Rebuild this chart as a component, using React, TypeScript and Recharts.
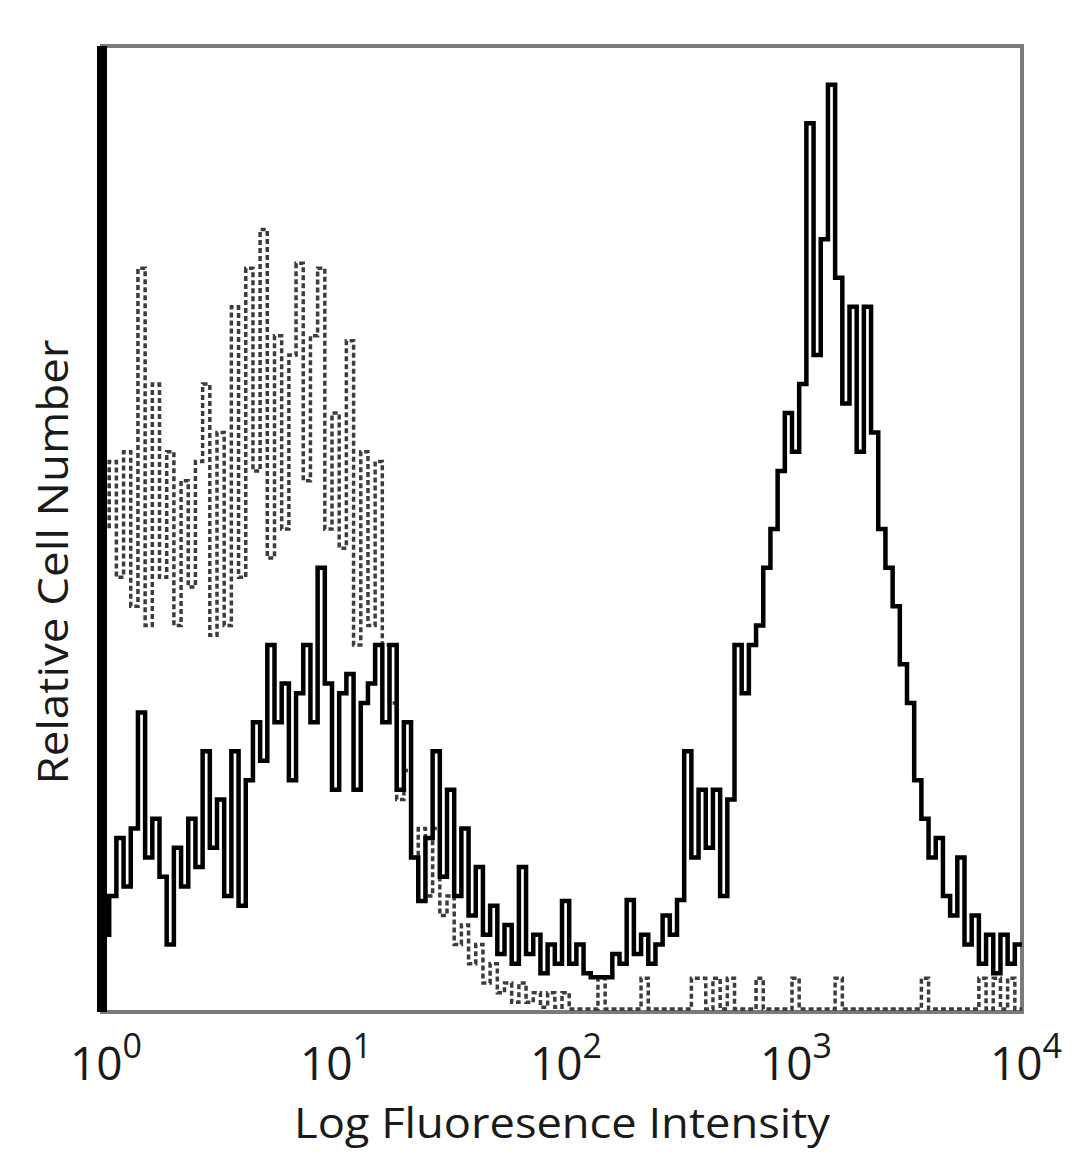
import React from "react";
import { ComposedChart, Line, XAxis, YAxis, ReferenceArea, ReferenceLine } from "recharts";

// 128 log-spaced channels spanning 10^0 .. 10^4 (32 channels per decade)
const isotypeCounts = [
  50, 57, 45, 58, 42, 77, 40, 65, 45, 58, 40, 55, 44, 57, 65, 39,
  60, 40, 73, 45, 77, 56, 81, 47, 70, 50, 68, 77.5, 55, 70, 77, 50,
  62, 48, 69.5, 38, 58, 40, 57, 38, 32, 22, 25, 16, 19, 12, 19, 10,
  12, 7, 9, 5, 7, 3, 5, 2, 3, 1, 3, 1, 2, 0.5, 2, 0.5,
  2, 0.3, 0.3, 0.3, 0.3, 3.5, 0.3, 0.3, 0.3, 0.3, 0.3, 3.5, 0.3, 0.3, 0.3, 0.3,
  0.3, 0.3, 3.5, 3.5, 0.3, 3.5, 0.3, 3.5, 0.3, 0.3, 0.3, 3.5, 0.3, 0.3, 0.3, 0.3,
  3.5, 0.3, 0.3, 0.3, 0.3, 0.3, 3.5, 0.3, 0.3, 0.3, 0.3, 0.3, 0.3, 0.3, 0.3, 0.3,
  0.3, 0.3, 3.5, 0.3, 0.3, 0.3, 0.3, 0.3, 0.3, 0.3, 3.5, 0.3, 3.5, 0.3, 3.5, 0.3,
];

const stainedCounts = [
  8, 12, 18, 13, 19, 31, 16, 20, 14, 7, 17, 13, 20, 15, 27, 17,
  22, 12, 27, 11, 24, 30, 26, 38, 30, 34, 24, 33, 38, 30, 46, 34,
  23, 33, 35, 23, 32, 34, 38, 30, 38, 23, 30, 16, 11.5, 18, 27, 14,
  23, 12, 19, 10, 15, 8, 11, 6, 9, 5, 15, 6, 8, 4, 7, 5,
  11.5, 5, 7, 4, 3.6, 3.6, 3.6, 6, 5, 11.6, 6, 8, 5, 7, 10, 8,
  11.6, 27, 16, 23, 17, 23, 12, 22, 38, 33, 38, 40, 46, 50, 56, 62,
  58, 65, 92, 68, 80, 96, 76, 63, 73, 58, 73, 60, 50, 46, 42, 36,
  32, 24, 20, 16, 18, 12, 10, 16, 7, 10, 5, 8, 4, 8, 5, 7,
];

const tickChannels = [0, 32, 64, 96, 128];
const tickExponents = ["0", "1", "2", "3", "4"];
const xTitle = "Log Fluoresence Intensity";
const yTitle = "Relative Cell Number";

const channels = isotypeCounts.map((_, i) => i);
const data = channels.map((c, i) => ({ ch: c, iso: isotypeCounts[i], stain: stainedCounts[i] }));
data.push({ ch: 128, iso: isotypeCounts[127], stain: stainedCounts[127] });

const FONT = "'Open Sans', 'DejaVu Sans', sans-serif";

const Tick = (props: any) => {
  const { x, y, payload } = props;
  const idx = tickChannels.indexOf(payload.value);
  return (
    <text x={x + 4} y={y + 68} textAnchor="middle" fontFamily={FONT} fontSize={46} fill="#1a1a1a">
      <tspan>10</tspan>
      <tspan dy={-22} fontSize={34}>{tickExponents[idx]}</tspan>
    </text>
  );
};

const Titles = (props: any) => {
  const vb = props.viewBox || { x: 94, y: 1004, width: 920 };
  return (
    <g>
      <text
        x={vb.x + vb.width / 2}
        y={vb.y + 126}
        textAnchor="middle"
        fontFamily={FONT}
        fontSize={42}
        fill="#1a1a1a"
        textLength={536}
        lengthAdjust="spacingAndGlyphs"
      >
        {xTitle}
      </text>
      <text
        x={0}
        y={0}
        transform={`translate(${vb.x - 34}, 554) rotate(-90)`}
        textAnchor="middle"
        fontFamily={FONT}
        fontSize={42}
        fill="#1a1a1a"
        textLength={445}
        lengthAdjust="spacingAndGlyphs"
      >
        {yTitle}
      </text>
    </g>
  );
};

export default function App() {
  return (
    <div style={{ width: 1064, height: 1150, background: "#fff" }}>
      <ComposedChart
        width={1064}
        height={1150}
        data={data}
        margin={{ top: 38, right: 50, bottom: 46, left: 94 }}
      >
        <XAxis
          dataKey="ch"
          type="number"
          domain={[0, 128]}
          ticks={tickChannels}
          tick={<Tick />}
          tickLine={false}
          axisLine={false}
          tickSize={0}
          tickMargin={0}
          height={100}
          interval={0}
          label={{ content: <Titles /> } as any}
        />
        <YAxis hide domain={[0, 100]} type="number" />
        <ReferenceArea x1={0} x2={128} y1={0} y2={100} fill="none" stroke="#7a7a7a" strokeWidth={4} />
        <Line
          type="stepAfter"
          dataKey="iso"
          stroke="#3c3c3c"
          strokeWidth={3.5}
          strokeDasharray="5 3"
          dot={false}
          isAnimationActive={false}
        />
        <Line
          type="stepAfter"
          dataKey="stain"
          stroke="#000"
          strokeWidth={4.5}
          dot={false}
          isAnimationActive={false}
        />
        <ReferenceLine x={0} stroke="#000" strokeWidth={10} />
      </ComposedChart>
    </div>
  );
}
